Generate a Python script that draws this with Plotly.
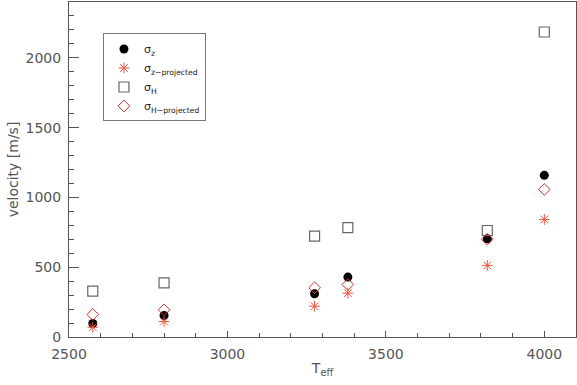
"""Velocity dispersions versus effective temperature."""

import plotly.graph_objects as go

# values
teff = [2575, 2800, 3275, 3380, 3820, 4000]
sigma_z = [97, 154, 310, 429, 704, 1158]
sigma_z_proj = [70, 111, 221, 314, 513, 842]
sigma_h = [328, 388, 723, 783, 763, 2185]
sigma_h_proj = [161, 195, 353, 376, 700, 1057]

RED = "#e02a2a"
AXIS = "#555555"
FONT = "DejaVu Sans"

fig = go.Figure()
fig.add_trace(
    go.Scatter(
        x=teff, y=sigma_z, mode="markers", name="σ<sub>z</sub>",
        marker=dict(symbol="circle", size=9, color="black"),
    )
)
fig.add_trace(
    go.Scatter(
        x=teff, y=sigma_z_proj, mode="markers", name="σ<sub>z−projected</sub>",
        marker=dict(symbol="asterisk-open", size=9, line=dict(color=RED, width=1)),
    )
)
fig.add_trace(
    go.Scatter(
        x=teff, y=sigma_h, mode="markers", name="σ<sub>H</sub>",
        marker=dict(symbol="square-open", size=10, color="#666666", line=dict(width=1.2)),
    )
)
fig.add_trace(
    go.Scatter(
        x=teff, y=sigma_h_proj, mode="markers", name="σ<sub>H−projected</sub>",
        marker=dict(symbol="diamond-open", size=9, color=RED, line=dict(width=1)),
    )
)

fig.update_layout(
    width=577,
    height=385,
    margin=dict(l=69, r=1, t=2, b=48, autoexpand=False),
    plot_bgcolor="white",
    paper_bgcolor="white",
    font=dict(family=FONT, size=14, color="#555555"),
    showlegend=True,
    legend=dict(
        x=0.067, y=0.906, xanchor="left", yanchor="top",
        bordercolor="#777777", borderwidth=1, bgcolor="white",
        font=dict(size=11, color="#222222"),
        itemwidth=30, tracegroupgap=0,
    ),
)
fig.update_xaxes(
    range=[2500, 4100], showgrid=False, zeroline=False, automargin=False,
    showline=True, linecolor=AXIS, linewidth=1, mirror=True,
    tickmode="array", tickvals=[2500, 3000, 3500, 4000],
    ticks="inside", ticklen=6, tickcolor=AXIS, ticklabelstandoff=4,
    minor=dict(ticks="inside", dtick=100, ticklen=4, tickcolor=AXIS, showgrid=False),
    title=dict(text="T<sub>eff</sub>", standoff=2, font=dict(size=14)),
)
fig.update_yaxes(
    range=[0, 2400], showgrid=False, zeroline=False, automargin=False,
    showline=True, linecolor=AXIS, linewidth=1, mirror=True,
    tickmode="array", tickvals=[0, 500, 1000, 1500, 2000],
    ticks="inside", ticklen=10, tickcolor=AXIS, ticklabelstandoff=4,
    minor=dict(ticks="inside", dtick=100, ticklen=5, tickcolor=AXIS, showgrid=False),
    title=dict(text="velocity [m/s]", standoff=3, font=dict(size=14)),
)

# the page's default body margin would shift the figure by 8px
fig.write_html(
    "out.html",
    config={"displayModeBar": False},
    post_script="document.body.style.margin = '0px';",
)
